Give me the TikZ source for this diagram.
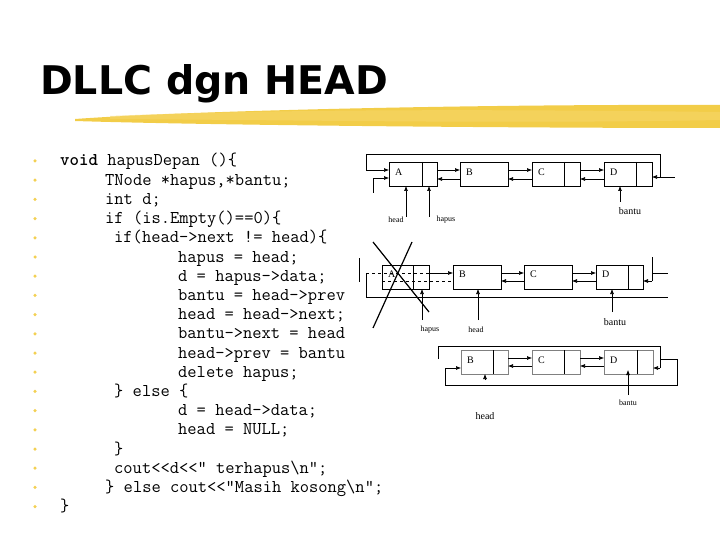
\documentclass[tikz,border=0pt]{standalone}
\usepackage{fontspec}
\setmainfont{Liberation Serif}
\newfontfamily\titlef{DejaVu Sans}
\usetikzlibrary{arrows.meta}
\definecolor{hl}{RGB}{240,196,40}
\begin{document}
\begin{tikzpicture}[x=1pt,y=-1pt,
  code/.style={anchor=base west,inner sep=0,font=\ttfamily\fontsize{18}{18}\selectfont},
  bul/.style={fill=hl!80!white,circle,inner sep=0,minimum size=3.5pt},
  cell/.style={draw,line width=0.6pt},
  ar/.style={-{Latex[length=5pt,width=4pt]},line width=0.6pt},
  ln/.style={line width=0.6pt},
  lab/.style={font=\fontsize{8}{8}\selectfont,inner sep=0},
  nl/.style={font=\fontsize{10}{10}\selectfont,inner sep=0,anchor=west}]
\useasboundingbox (0,0) rectangle (720,540);
% title
\node[anchor=base west,inner sep=0,font=\titlef\bfseries\fontsize{39.5}{40}\selectfont] (title) at (40,95) {DLLC dgn HEAD};
\fill[hl,opacity=0.85] (75,119) .. controls (200,110) and (500,104) .. (720,105) -- (720,128) .. controls (500,128) and (200,125) .. (75,121) -- cycle;
\fill[hl!70!white,opacity=0.6] (110,116) .. controls (300,108) and (550,110) .. (720,112) -- (720,120) .. controls (500,124) and (300,120) .. (110,119) -- cycle;
% bullets and code
\foreach \i in {0,...,18} { \node[bul] (b\i) at (35,161+\i*19.2) {}; }
\node[code] (l1) at (60,166) {\textbf{void} hapusDepan ()\{};
\node[code] (l2) at (105,185.2) {TNode *hapus,*bantu;};
\node[code] (l3) at (105,204.4) {int d;};
\node[code] (l4) at (105,223.6) {if (is.Empty()==0)\{};
\node[code] (l5) at (114,242.8) {if(head->next != head)\{};
\node[code] (l6) at (178,262) {hapus = head;};
\node[code] (l7) at (178,281.2) {d = hapus->data;};
\node[code] (l8) at (178,300.4) {bantu = head->prev};
\node[code] (l9) at (178,319.6) {head = head->next;};
\node[code] (l10) at (178,338.8) {bantu->next = head};
\node[code] (l11) at (178,358) {head->prev = bantu};
\node[code] (l12) at (178,377.2) {delete hapus;};
\node[code] (l13) at (114,396.4) {\} else \{};
\node[code] (l14) at (178,415.6) {d = head->data;};
\node[code] (l15) at (178,434.8) {head = NULL;};
\node[code] (l16) at (114,454) {\}};
\node[code] (l17) at (114,473.2) {cout<<d<<" terhapus\textbackslash n";};
\node[code] (l18) at (105,492.4) {\} else cout<<"Masih kosong\textbackslash n";};
\node[code] (l19) at (60,511.6) {\}};
% ===== diagram 1 =====
\draw[cell] (389,162) rectangle (437,186); \draw[ln] (422,162)--(422,186);
\draw[cell] (460,162) rectangle (508,186);
\draw[cell] (532,162) rectangle (580,186); \draw[ln] (564,162)--(564,186);
\draw[cell] (604,162) rectangle (652,186); \draw[ln] (636,162)--(636,186);
\node[nl] (a1) at (395,172) {A}; \node[nl] (b1n) at (466,172) {B};
\node[nl] (c1) at (538,172) {C}; \node[nl] (d1) at (610,172) {D};
\foreach \xa/\xb in {437/460,508/532,580/604} {
  \draw[ar] (\xa,170)--(\xb,170); \draw[ar] (\xb,179)--(\xa,179); }
\draw[ar] (366,154)--(366,170)--(389,170);
\draw[ln] (366,154)--(660,154)--(660,177);
\draw[ar] (660,177)--(652,177); \draw[ln] (660,177)--(675,177);
\draw[ar] (373,193)--(373,178)--(389,178);
\coordinate (h1) at (406,217); \coordinate (p1) at (429,217); \coordinate (t1) at (620,202);
\draw[ar] (h1)--(406,186); \draw[ar] (p1)--(429,186); \draw[ar] (t1)--(620,186);
\node[lab] at (396,220) {head}; \node[lab] at (446,220) {hapus};
\node[lab,font=\fontsize{10}{10}\selectfont] at (630,211) {bantu};
% ===== diagram 2 =====
\draw[cell] (382,265) rectangle (429,289); \draw[ln] (413,265)--(413,289);
\draw[cell] (453,265) rectangle (501,289);
\draw[cell] (524,265) rectangle (572,289);
\draw[cell] (596,265) rectangle (643,289); \draw[ln] (628,265)--(628,289);
\node[nl] at (388,274) {A}; \node[nl] at (459,274) {B};
\node[nl] at (530,274) {C}; \node[nl] at (602,274) {D};
\draw[ln,dashed] (366,273)--(429,273); \draw[ar] (429,273)--(453,273);
\draw[ln,dashed] (382,281)--(453,281);
\foreach \xa/\xb in {501/524,572/596} {
  \draw[ar] (\xa,273)--(\xb,273); \draw[ar] (\xb,281)--(\xa,281); }
\draw[ln] (359,258)--(359,282);
\draw[ln] (366,273)--(366,297)--(668,297);
\draw[ln] (652,257)--(652,281); \draw[ar] (652,281)--(643,281);
\draw[ln] (652,273)--(668,273);
\draw[line width=1.2pt] (373,242)--(429,312);
\draw[line width=1.2pt] (412,242)--(373,328);
\draw[ar] (422,320)--(422,289); \draw[ar] (478,320)--(478,289); \draw[ar] (612,312)--(612,289);
\node[lab] at (430,330) {hapus}; \node[lab] at (476,330) {head};
\node[lab,font=\fontsize{10}{10}\selectfont] at (615,322) {bantu};
% ===== diagram 3 =====
\draw[draw=gray,line width=0.6pt] (461,350) rectangle (508,374); \draw[ln] (493,350)--(493,374);
\draw[draw=gray,line width=0.6pt] (532,350) rectangle (580,374); \draw[ln] (564,350)--(564,374);
\draw[draw=gray,line width=0.6pt] (604,350) rectangle (653,374); \draw[ln] (637,350)--(637,374);
\node[nl] at (467,360) {B}; \node[nl] at (538,360) {C}; \node[nl] at (610,360) {D};
\foreach \xa/\xb in {508/532,580/604} {
  \draw[ar] (\xa,358)--(\xb,358); \draw[ar] (\xb,366)--(\xa,366); }
\draw[ln] (438,359)--(438,346)--(660,346)--(660,368);
\draw[ar] (660,368)--(653,368);
\draw[ln] (660,359)--(677,359)--(677,385)--(445,385)--(445,368);
\draw[ar] (445,368)--(461,368);
\draw[ar] (485,380)--(485,374);
\draw[ar] (628,395)--(628,370);
\node[lab] at (628,403) {bantu};
\node[lab,font=\fontsize{10}{10}\selectfont] at (485,416) {head};
\end{tikzpicture}
\end{document}
